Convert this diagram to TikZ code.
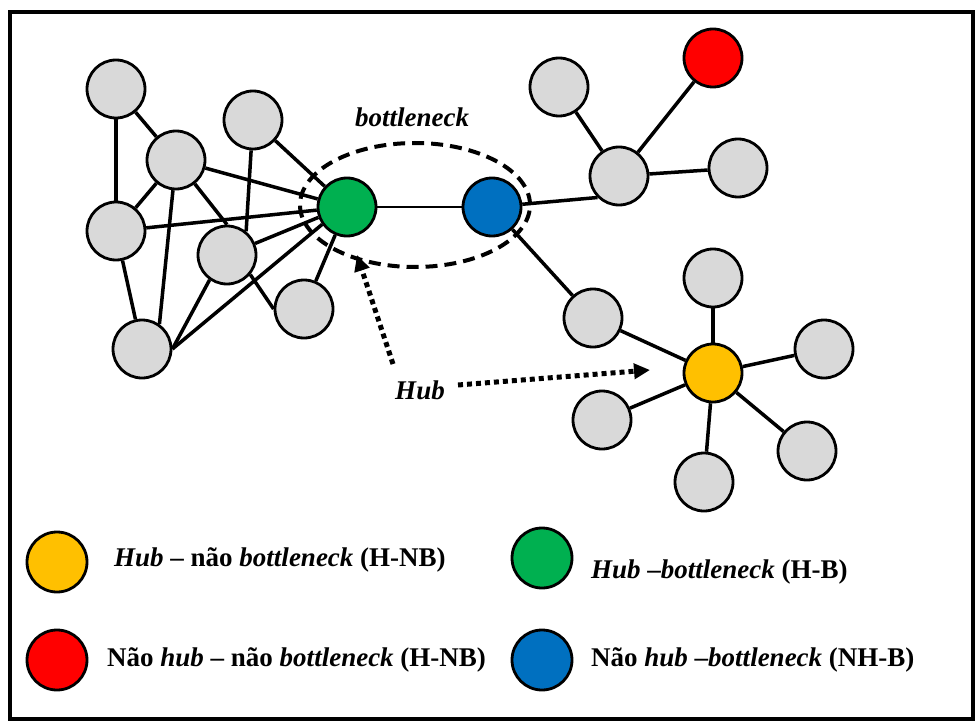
\documentclass[tikz,border=0pt]{standalone}
\usepackage{fontspec}
\setmainfont{Liberation Serif}
\usetikzlibrary{arrows.meta,shapes.geometric}
\definecolor{ngray}{HTML}{D9D9D9}
\definecolor{ngreen}{HTML}{00B050}
\definecolor{nblue}{HTML}{0070C0}
\definecolor{nred}{HTML}{FF0000}
\definecolor{nyellow}{HTML}{FFC000}
\begin{document}
\begin{tikzpicture}[x=1pt,y=-1pt,
  nd/.style={circle,draw=black,line width=2.8pt,minimum size=58pt,inner sep=0pt,fill=ngray},
  edge/.style={line width=3.5pt},
  lbl/.style={font=\fontsize{27}{32}\selectfont\bfseries\itshape,inner sep=0pt},
  legtxt/.style={anchor=west,font=\fontsize{27}{32}\selectfont\bfseries,inner sep=0pt},
  hubarrow/.style={line width=5pt,dash pattern=on 5pt off 4pt,-{Triangle[length=16pt,width=15pt]}},
  bnring/.style={ellipse,draw=black,line width=4pt,dash pattern=on 12pt off 7pt,minimum width=230pt,minimum height=124pt,inner sep=0pt}]
\useasboundingbox (0,0) rectangle (976,722);
\draw[line width=4pt] (10,12) rectangle (973,719);

% nodes
\node[nd] (A) at (116,89) {};
\node[nd] (B) at (176,160) {};
\node[nd] (C) at (253,120) {};
\node[nd] (D) at (116,231) {};
\node[nd] (E) at (227,255) {};
\node[nd] (F) at (304,309) {};
\node[nd] (G) at (142,349) {};
\node[nd,fill=ngreen] (Gr) at (347,207) {};
\node[nd,fill=nblue] (Bl) at (492,207) {};
\node[nd] (H) at (559,87) {};
\node[nd,fill=nred] (R) at (713,58) {};
\node[nd] (I) at (619,176) {};
\node[nd] (J) at (738,168) {};
\node[nd] (K) at (593,318) {};
\node[nd,fill=nyellow] (Y) at (713,373) {};
\node[nd] (L) at (713,278) {};
\node[nd] (M) at (824,349) {};
\node[nd] (N) at (807,451) {};
\node[nd] (O) at (704,482) {};
\node[nd] (P) at (602,420) {};

% edges
\draw[edge] (A) -- (D);
\draw[edge] (A) -- (B);
\draw[edge] (B) -- (D);
\draw[edge] (B) -- (G.55);
\draw[edge] (B) -- (Gr);
\draw[edge] (B) -- (E.north);
\draw[edge] (C) -- (E.51);
\draw[edge] (C) -- (Gr);
\draw[edge] (D) -- (Gr);
\draw[edge] (D) -- (G);
\draw[edge] (E) -- (Gr.200);
\draw[edge] (E.-40) -- (F.west);
\draw[edge] (G.east) -- (E.235);
\draw[edge] (G.east) -- (Gr.215);
\draw[edge] (F) -- (Gr);
\draw[line width=2.2pt] (Gr) -- (Bl);
\draw[edge] (Bl) -- (I.225);
\draw[edge] (I) -- (H);
\draw[edge] (I) -- (R);
\draw[edge] (I) -- (J);
\draw[edge] (Bl) -- (K);
\draw[edge] (K) -- (Y);
\draw[edge] (Y) -- (L);
\draw[edge] (Y) -- (M);
\draw[edge] (Y) -- (N);
\draw[edge] (Y) -- (O);
\draw[edge] (Y) -- (P);

% bottleneck ring
\node[bnring] (ring) at (415,205) {};
\node[lbl] (bnlabel) at (412,117) {bottleneck};

% hub label and arrows
\node[lbl] (hub) at (420,390) {Hub};
\coordinate (hubA) at (393,364);
\coordinate (hubAt) at (357,255);
\coordinate (hubB) at (458,385);
\coordinate (hubBt) at (650,370);
\draw[hubarrow] (hubA) -- (hubAt);
\draw[hubarrow] (hubB) -- (hubBt);

% legend
\node[nd,minimum size=60pt,fill=nyellow] (leg1) at (57,562) {};
\node[nd,minimum size=60pt,fill=nred] (leg3) at (57,660) {};
\node[nd,minimum size=60pt,fill=ngreen] (leg2) at (542,558) {};
\node[nd,minimum size=60pt,fill=nblue] (leg4) at (542,660) {};
\node[legtxt] (t1) at (114,560) {\textit{Hub} – não \textit{bottleneck} (H-NB)};
\node[legtxt] (t2) at (591,572) {\textit{Hub} –\textit{bottleneck} (H-B)};
\node[legtxt] (t3) at (107,660) {Não \textit{hub} – não \textit{bottleneck} (H-NB)};
\node[legtxt] (t4) at (591,660) {Não \textit{hub} –\textit{bottleneck} (NH-B)};
\end{tikzpicture}
\end{document}
